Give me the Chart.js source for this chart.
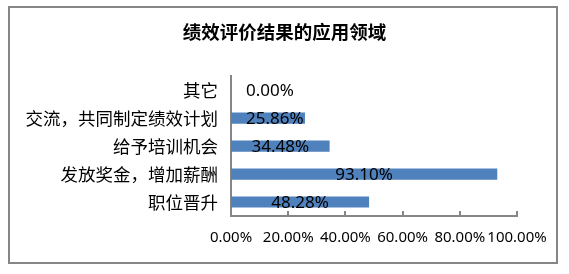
<!DOCTYPE html>
<html>
<head>
<meta charset="utf-8">
<script src="https://cdn.jsdelivr.net/npm/chart.js@4/dist/chart.umd.min.js"></script>
<style>
  html, body { margin: 0; padding: 0; background: #fff; }
  #wrap { position: relative; width: 569px; height: 274px; }
  #frame {
    position: absolute; left: 8px; top: 6px; width: 550px; height: 258px;
    box-sizing: border-box; border: 2px solid #868686; pointer-events: none;
  }
  canvas { position: absolute; left: 0; top: 0; }
</style>
</head>
<body>
<div id="wrap">
  <canvas id="chart" width="569" height="274"></canvas>
  <div id="frame"></div>
</div>
<script>
// categories top -> bottom, values in percent
const categories = ['其它', '交流，共同制定绩效计划', '给予培训机会', '发放奖金，增加薪酬', '职位晋升'];
const shares = [0.00, 25.86, 34.48, 93.10, 48.28];
const tickValues = [0, 20, 40, 60, 80, 100];

const AXIS_GREY = '#868686';
const BAR_BLUE = '#4F81BD';
const LATIN = "'Noto Sans', 'DejaVu Sans', sans-serif";
const CJK = "'Noto Sans CJK SC', sans-serif";

// small inward tick marks on the value axis (Excel style)
const innerTicks = {
  id: 'innerTicks',
  afterDraw(chart) {
    const x = chart.scales.x;
    const ctx = chart.ctx;
    const bottom = chart.chartArea.bottom;
    ctx.save();
    ctx.strokeStyle = AXIS_GREY;
    ctx.lineWidth = 2;
    x.ticks.forEach((t, i) => {
      const px = Math.round(x.getPixelForTick(i));
      ctx.beginPath();
      ctx.moveTo(px, bottom - 5);
      ctx.lineTo(px, bottom);
      ctx.stroke();
    });
    ctx.restore();
  }
};

// value labels centred on bars, kept clear of the axis
const barLabels = {
  id: 'barLabels',
  afterDatasetsDraw(chart) {
    const ctx = chart.ctx;
    const meta = chart.getDatasetMeta(0);
    const minLeft = chart.chartArea.left + 15;
    ctx.save();
    ctx.font = '17px ' + LATIN;
    ctx.fillStyle = '#000';
    ctx.textAlign = 'center';
    ctx.textBaseline = 'middle';
    meta.data.forEach((bar, i) => {
      const text = shares[i].toFixed(2) + '%';
      const w = ctx.measureText(text).width;
      let cx = (bar.x + bar.base) / 2;
      if (cx - w / 2 < minLeft) cx = minLeft + w / 2;
      ctx.fillText(text, cx, bar.y + 1);
    });
    ctx.restore();
  }
};

new Chart(document.getElementById('chart'), {
  type: 'bar',
  data: {
    labels: categories,
    datasets: [{
      data: shares,
      backgroundColor: BAR_BLUE,
      borderWidth: 0,
      barPercentage: 0.4,
      categoryPercentage: 1.0,
    }],
  },
  options: {
    indexAxis: 'y',
    responsive: false,
    animation: false,
    devicePixelRatio: 1,
    layout: { padding: 0 },
    plugins: {
      legend: { display: false },
      tooltip: { enabled: false },
      title: {
        display: true,
        text: '绩效评价结果的应用领域',
        color: '#000',
        font: { family: CJK, size: 18.5, weight: 'bold', lineHeight: 1.2 },
        padding: { top: 21, bottom: 33 },
      },
    },
    scales: {
      x: {
        min: 0,
        max: 100,
        afterBuildTicks(scale) {
          scale.ticks = tickValues.map(v => ({ value: v }));
        },
        afterFit(scale) { scale.height = 58; },
        ticks: {
          color: '#000',
          font: { family: LATIN, size: 15 },
          padding: 13,
          maxRotation: 0,
          autoSkip: false,
          callback: v => Number(v).toFixed(2) + '%',
        },
        grid: { display: false, drawTicks: false },
        border: { display: true, color: AXIS_GREY, width: 2 },
      },
      y: {
        afterFit(scale) { scale.width = 231; },
        ticks: {
          color: '#000',
          font: { family: CJK, size: 17.5 },
          padding: 13,
          autoSkip: false,
        },
        grid: { display: false, drawTicks: false },
        border: { display: true, color: AXIS_GREY, width: 2 },
      },
      // empty right-hand axis that only reserves the right margin
      yRight: {
        position: 'right',
        type: 'category',
        labels: categories,
        afterFit(scale) { scale.width = 52; },
        ticks: { display: false },
        grid: { display: false, drawTicks: false },
        border: { display: false },
      },
    },
  },
  plugins: [barLabels, innerTicks],
});
</script>
</body>
</html>
